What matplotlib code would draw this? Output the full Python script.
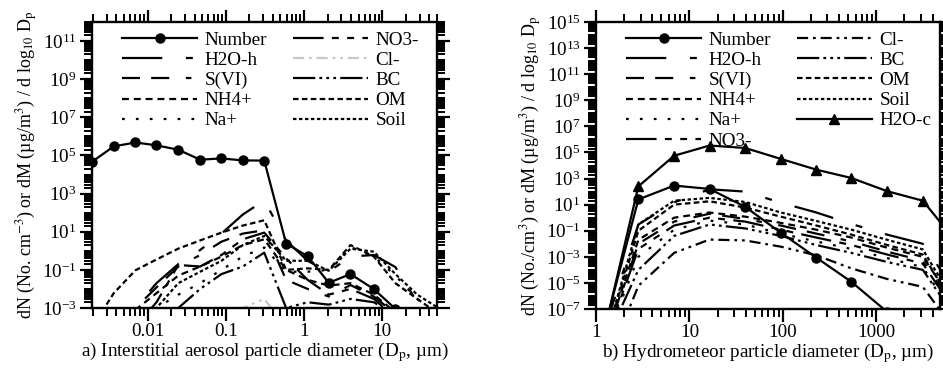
import numpy as np
import matplotlib as mpl
mpl.use("Agg")
import matplotlib.pyplot as plt
from matplotlib.ticker import FixedLocator, LogLocator, NullFormatter

plt.rcParams["font.family"] = ["Liberation Serif", "DejaVu Serif"]
plt.rcParams["mathtext.fontset"] = "stix"
plt.rcParams["lines.scale_dashes"] = False

nan = np.nan

# a) interstitial aerosol, bin diameters (um)
x_a = [0.00197, 0.0037, 0.0070, 0.013, 0.0247, 0.047, 0.088, 0.165, 0.31,
       0.59, 1.11, 2.07, 3.92, 7.8, 14.7, 28, 52]
number_a = [4.8e4, 3.0e5, 4.8e5, 3.4e5, 2.0e5, 6.0e4, 7.0e4, 5.5e4, 5.4e4,
            2.4, 0.52, 0.021, 0.06, 0.0098, 9e-4, nan, nan]
h2oh_a = [1e-6, 1e-5, 1e-3, 0.02, 0.2, 1.1, 8, 80, 440, 3.5, 0.3, 0.08, 0.5, 0.6, 0.14, 2e-3, 1e-4]
s6_a = [1e-6, 1e-4, 1e-3, 0.012, 0.15, 0.6, 3, 8, 12, 0.03, 0.01, 4e-3, 0.016, 4e-3, 5e-4, 1e-5, 1e-6]
nh4_a = [1e-6, 1e-4, 8e-4, 6e-3, 0.05, 0.15, 0.5, 2, 4, 0.1, 0.03, 0.015, 0.02, 5e-3, 6e-4, 1e-5, 1e-6]
na_a = [1e-6, 1e-5, 1e-4, 1e-3, 5e-3, 0.02, 0.1, 0.5, 1.5, 0.08, 0.08, 0.1, 1.6, 0.5, 0.05, 3e-3, 3e-4]
no3_a = [1e-6, 1e-5, 1e-4, 2e-3, 0.18, 0.15, 0.6, 4, 9, 0.4, 0.03, 5e-3, 0.01, 3e-3, 3e-4, 1e-5, 1e-6]
cl_a = [1e-7, 1e-7, 1e-6, 1e-6, 1e-5, 1e-5, 1e-4, 1e-3, 3e-3, 1e-4, 1e-5, 1e-4, 1e-3, 5e-4, 1e-4, 1e-5, 1e-6]
bc_a = [1e-7, 1e-6, 1e-5, 1e-4, 1e-3, 0.01, 0.06, 0.15, 0.8, 1e-3, 2e-3, 1.5e-3, 3e-3, 2e-3, 4e-4, 1e-5, 1e-6]
om_a = [1e-4, 6e-3, 0.095, 0.35, 1.3, 3.5, 9, 21, 40, 0.1, 0.12, 0.1, 2, 0.5, 0.02, 3e-3, 5e-4]
soil_a = [1e-6, 1e-5, 1e-4, 1e-3, 0.02, 0.08, 0.3, 2, 6, 0.3, 0.3, 0.09, 1.3, 0.9, 0.06, 5e-3, 1e-3]

# b) hydrometeors, bin diameters (um)
x_b = [1.18, 2.84, 6.86, 16.4, 39.5, 95, 228, 541, 1306, 3142, 7540]
number_b = [1e-9, 25, 290, 160, 6.8, 0.07, 8.7e-4, 1.2e-5, 6e-8, nan, nan]
h2oh_b = [1e-9, 0.3, 15, 150, 100, 14, 2.5, 0.33, 0.05, 0.01, 1e-6]
s6_b = [1e-10, 0.01, 0.5, 2.0, 0.8, 0.25, 0.06, 0.015, 2.5e-3, 5e-4, 5e-8]
nh4_b = [1e-10, 0.02, 1.0, 2.5, 1.2, 0.4, 0.12, 0.03, 5e-3, 1e-3, 1e-7]
na_b = [1e-10, 1e-3, 0.12, 0.6, 0.3, 0.06, 0.015, 4e-3, 8e-4, 1.6e-4, 1e-8]
no3_b = [1e-10, 4e-3, 0.25, 1.0, 0.5, 0.12, 0.03, 8e-3, 1.5e-3, 3e-4, 3e-8]
cl_b = [1e-12, 6e-6, 2e-3, 0.021, 0.018, 6e-3, 1.3e-3, 1.3e-4, 2e-5, 5e-6, 1e-9]
bc_b = [1e-10, 1e-4, 0.04, 0.3, 0.15, 0.04, 8e-3, 2e-3, 4e-4, 1e-4, 1e-8]
om_b = [1e-10, 0.1, 10, 18, 6, 1.2, 0.25, 0.05, 8e-3, 1.5e-3, 5e-8]
soil_b = [1e-10, 0.3, 20, 33, 16, 2.5, 0.56, 0.12, 0.02, 3.7e-3, 1e-7]
h2oc_b = [6e-10, 250, 5.6e4, 3.4e5, 2.2e5, 3.2e4, 4.8e3, 1.1e3, 107, 20, 9e-3]

# dash patterns (points)
dash = {
    "H2O-h": (0, (29, 17, 5, 17)),
    "S(VI)": (0, (13, 8, 13, 12, 4, 12)),
    "NH4+": (0, (5, 3.5)),
    "Na+": (0, (2, 8)),
    "NO3-": (0, (22, 6, 5, 6, 5, 6)),
    "Cl-": (0, (8, 3.5, 2, 3.5, 8, 3.5, 2, 3.5, 2, 3.5)),
    "BC": (0, (16, 3, 2, 3, 2, 3, 2, 3)),
    "OM": (0, (4, 2.4)),
    "Soil": (0, (2.5, 1.8)),
}

FS = 13.8


def style_axes(ax, xlim, ylim, ylabels, xlabel, ylabel):
    ax.set_xscale("log")
    ax.set_yscale("log")
    ax.set_xlim(*xlim)
    ax.set_ylim(*ylim)
    ax.yaxis.set_major_locator(FixedLocator(ylabels))
    ax.yaxis.set_minor_locator(LogLocator(base=10, subs=np.arange(1, 10) * 1.0, numticks=100))
    ax.yaxis.set_minor_formatter(NullFormatter())
    ax.xaxis.set_minor_locator(LogLocator(base=10, subs=np.arange(2, 10) * 1.0, numticks=100))
    ax.xaxis.set_minor_formatter(NullFormatter())
    ax.tick_params(which="both", direction="out", top=True, right=True, labelsize=FS)
    ax.tick_params(which="major", length=9, width=1.6, pad=2)
    ax.tick_params(which="minor", length=6, width=1.4)
    for s in ax.spines.values():
        s.set_linewidth(1.7)
    ax.set_xlabel(xlabel, fontsize=FS, labelpad=0)
    ax.set_ylabel(ylabel, fontsize=13, labelpad=1)


fig = plt.figure(figsize=(9.43, 3.71), dpi=100)
ax1 = fig.add_axes([92 / 943, 63 / 371, 345 / 943, 286 / 371])
ax2 = fig.add_axes([596 / 943, 62 / 371, 344 / 943, 287 / 371])

lw = 1.6
# panel a
ax1.plot(x_a, number_a, "k-", marker="o", ms=6.5, lw=lw, label="Number")
ax1.plot(x_a, h2oh_a, color="k", lw=lw, ls=dash["H2O-h"], label="H2O-h")
ax1.plot(x_a, s6_a, color="k", lw=lw, ls=dash["S(VI)"], label="S(VI)")
ax1.plot(x_a, nh4_a, color="k", lw=lw, ls=dash["NH4+"], label="NH4+")
ax1.plot(x_a, na_a, color="k", lw=lw, ls=dash["Na+"], label="Na+")
ax1.plot(x_a, no3_a, color="k", lw=lw, ls=dash["NO3-"], label="NO3-")
ax1.plot(x_a, cl_a, color="#c8c8c8", lw=lw, ls=dash["Cl-"], label="Cl-")
ax1.plot(x_a, bc_a, color="k", lw=lw, ls=dash["BC"], label="BC")
ax1.plot(x_a, om_a, color="k", lw=lw, ls=dash["OM"], label="OM")
ax1.plot(x_a, soil_a, color="k", lw=lw, ls=dash["Soil"], label="Soil")

# panel b
ax2.plot(x_b, number_b, "k-", marker="o", ms=6.5, lw=lw, label="Number")
ax2.plot(x_b, h2oh_b, color="k", lw=lw, ls=dash["H2O-h"], label="H2O-h")
ax2.plot(x_b, s6_b, color="k", lw=lw, ls=dash["S(VI)"], label="S(VI)")
ax2.plot(x_b, nh4_b, color="k", lw=lw, ls=dash["NH4+"], label="NH4+")
ax2.plot(x_b, na_b, color="k", lw=lw, ls=dash["Na+"], label="Na+")
ax2.plot(x_b, no3_b, color="k", lw=lw, ls=dash["NO3-"], label="NO3-")
ax2.plot(x_b, cl_b, color="k", lw=lw, ls=dash["Cl-"], label="Cl-")
ax2.plot(x_b, bc_b, color="k", lw=lw, ls=dash["BC"], label="BC")
ax2.plot(x_b, om_b, color="k", lw=lw, ls=dash["OM"], label="OM")
ax2.plot(x_b, soil_b, color="k", lw=lw, ls=dash["Soil"], label="Soil")
ax2.plot(x_b, h2oc_b, "k-", marker="^", ms=6.5, lw=lw, label="H2O-c")

style_axes(ax1, (0.00195, 50), (1e-3, 1e12), 10.0 ** np.arange(-3, 12, 2),
           "a) Interstitial aerosol particle diameter (D$_{\\rm p}$, µm)",
           "dN (No. cm$^{-3}$) or dM (µg/m$^3$) / d log$_{10}$ D$_{\\rm p}$")
style_axes(ax2, (1, 4800), (1e-7, 1e15), 10.0 ** np.arange(-7, 16, 2),
           "b) Hydrometeor particle diameter (D$_{\\rm p}$, µm)",
           "dN (No./cm$^3$) or dM (µg/m$^3$) / d log$_{10}$ D$_{\\rm p}$")
ax1.set_xticks([0.01, 0.1, 1, 10], ["0.01", "0.1", "1", "10"])
ax2.set_xticks([1, 10, 100, 1000], ["1", "10", "100", "1000"])

for ax in (ax1, ax2):
    ax.legend(loc="upper left", ncol=2, frameon=False, fontsize=FS,
              handlelength=3.9, handletextpad=0.4, columnspacing=1.35,
              labelspacing=0.14, borderaxespad=0.1, bbox_to_anchor=(0.06, 1.0))

fig.savefig("out.png", dpi=100)
